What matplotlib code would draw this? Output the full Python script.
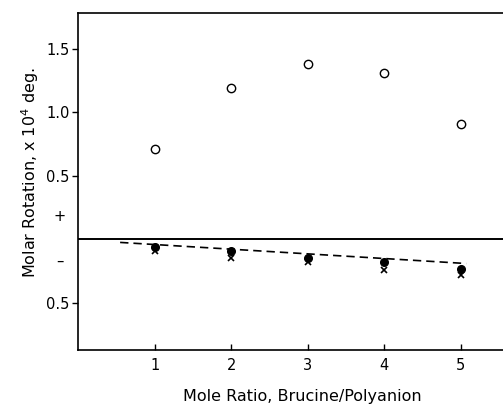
import matplotlib
matplotlib.use("Agg")
import matplotlib.pyplot as plt

ratio = [1, 2, 3, 4, 5]
open_circles = [0.71, 1.19, 1.38, 1.31, 0.91]
filled_circles = [-0.06, -0.09, -0.15, -0.18, -0.23]
crosses = [-0.09, -0.15, -0.18, -0.24, -0.28]
fit_x = [0.55, 5.07]
fit_y = [-0.024, -0.19]

ytick_vals = [1.5, 1.0, 0.5, -0.5]
ytick_labels = ["1.5", "1.0", "0.5", "0.5"]
xtick_vals = [1, 2, 3, 4, 5]

plt.rcParams['font.family'] = ['DejaVu Sans']
fig = plt.figure(figsize=(5.03, 4.05), dpi=100)
ax = fig.add_axes([78/503, 55/405, (503-78)/503, 337/405])
ax.set_xlim(0, 5.55)
ax.set_ylim(-0.87, 1.78)

ax.plot(ratio, open_circles, linestyle='none', marker='o', markersize=6,
        markerfacecolor='white', markeredgecolor='black', markeredgewidth=1.0)
ax.plot(ratio, crosses, linestyle='none', marker='x', markersize=5,
        color='black', markeredgewidth=1.2)
ax.plot(ratio, filled_circles, linestyle='none', marker='o', markersize=5.5,
        color='black')
ax.plot(fit_x, fit_y, linestyle=(0, (5, 3)), color='black', linewidth=1.2)
ax.axhline(0, color='black', linewidth=1.4)

ax.spines['right'].set_visible(False)
for s in ['left', 'top', 'bottom']:
    ax.spines[s].set_linewidth(1.2)

ax.set_yticks(ytick_vals)
ax.set_yticklabels(ytick_labels, fontsize=10.5)
ax.tick_params(axis='y', direction='out', length=4, width=1, pad=2)
ax.set_xticks(xtick_vals)
ax.set_xticklabels([str(v) for v in xtick_vals], fontsize=10.5)
ax.tick_params(axis='x', direction='in', length=4, width=1, pad=6)

ax.text(-0.24, 0.18, "+", ha='center', va='center', fontsize=10.5,
        transform=ax.transData, clip_on=False)
ax.text(-0.24, -0.17, "\u2013", ha='center', va='center', fontsize=10.5,
        transform=ax.transData, clip_on=False)

fig.text(30/503, 1 - 173/405, "Molar Rotation, x 10$^4$ deg.", rotation=90,
         ha='center', va='center', fontsize=11.5)
fig.text(302/503, 1 - 396/405, "Mole Ratio, Brucine/Polyanion",
         ha='center', va='center', fontsize=11.5)

fig.savefig("out.png", dpi=100)
